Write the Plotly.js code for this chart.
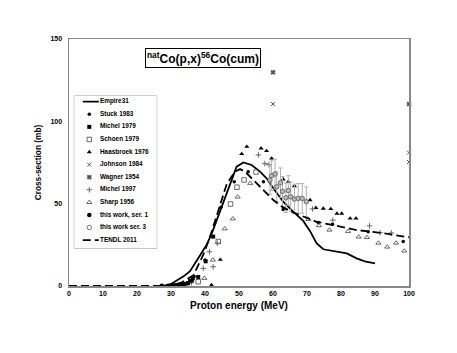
<!DOCTYPE html>
<html><head><meta charset="utf-8">
<script src="https://cdn.plot.ly/plotly-3.0.1.min.js"></script>
<style>html,body{margin:0;padding:0;background:#fff;}#chart{width:457px;height:353px;}</style>
</head><body><div id="chart"></div>
<script>
// ---- data ----
const empireE  = [27, 28.7, 30, 33.6, 35.6, 38.5, 40.5, 42.2, 44.9, 47.4, 49.3, 51.3, 53.7, 56.2, 58.1, 60.1, 63, 66, 68.9, 71, 72.8, 74.8, 77.7, 81.7, 84.6, 87, 90];
const empireXS = [0, 0.4, 1.2, 5.7, 9, 18, 25, 33, 48, 62, 72.5, 75, 73.5, 69.5, 65.4, 59.3, 51.2, 45, 39.5, 33, 26, 22.3, 21.3, 19.8, 16.8, 15, 13.8];

const tendlE  = [0, 10, 20, 26, 28, 30, 33, 36.6, 39.5, 41.5, 43.4, 46.4, 48.8, 50.3, 51.8, 54.7, 57.6, 60.1, 62.6, 65, 67.9, 72.8, 77.7, 84.6, 92.5, 100];
const tendlXS = [0, 0, 0, 0, 0.1, 0.5, 2, 6.5, 19, 30, 43, 62, 69.4, 71, 69.4, 63.3, 57.3, 52.2, 48.2, 45.5, 43, 39, 37, 34, 32, 29.6];

const stuckE  = [36.8, 40, 44.7, 48.6, 52.7, 57.2, 63, 73.3, 77.5, 88, 98.3];
const stuckXS = [5.7, 15.8, 47.8, 63.3, 69.4, 63.3, 46.5, 38.5, 37.5, 33, 27];

const michel79E  = [30, 31, 32, 33, 34, 35, 35.6, 36.4, 38, 40.2, 42.4];
const michel79XS = [0.2, 0.3, 0.5, 0.8, 1.2, 1.8, 3, 4.7, 5.5, 15, 30];

const schoenE  = [38, 43.9, 47.5, 49.4, 51.5, 55];
const schoenXS = [2.6, 27, 49.8, 60, 64.4, 69.2];

const haasE  = [41.9, 44.5, 50.8, 52.3, 56.5, 58.1, 59.6, 63, 64.5, 66.3, 70.9, 72.6, 74.8, 77, 78.8, 80.2, 82.7, 84.4];
const haasXS = [0.6, 16, 80.2, 84.6, 83.6, 82, 77.5, 64.8, 63.3, 60.7, 52.2, 47.5, 47, 46.8, 44, 44, 41, 41];

const johnsonE  = [60, 100, 100];
const johnsonXS = [110.5, 81, 75.3];

const wagnerE  = [60, 100];
const wagnerXS = [129.8, 110.5];

const michel97E  = [36, 39.5, 41.3, 42.4, 43.6, 55.7, 57.6, 58.8, 71.6, 77.6, 88.4, 91.5, 94.8];
const michel97XS = [2, 10.7, 20.8, 11.7, 26, 79.6, 74.3, 73.7, 46.8, 40, 36.5, 32.4, 32.2];

const sharpE  = [39.8, 42.3, 45.8, 48.2, 49.6, 53.3, 70.4, 73.5, 76.6, 82.1, 85.2, 87.6, 91, 93.6, 96.2, 98.6];
const sharpXS = [4.7, 15.8, 34.8, 40.8, 54.1, 62.4, 40.5, 36.7, 34, 33.2, 29.8, 29.5, 26.1, 23.7, 26.1, 21.3];

const ser1E  = [27.3, 29.2, 31.2, 33, 35, 36.1];
const ser1XS = [0.1, 0.2, 0.5, 0.9, 1.6, 3.3];

const ser3E   = [59.1, 59.6, 60.6, 61.1, 62.2, 62.8, 63.8, 64.5, 65.2, 66.3, 67.4, 68.6, 69.8];
const ser3XS  = [64.4, 67, 68, 60.3, 62.7, 57.5, 53.6, 58, 54.2, 52.8, 53.2, 53.2, 51.2];
const ser3Err = [9, 9, 9, 9, 9, 9, 9, 9, 9, 9, 9, 9, 9];

const legendNames = ['Empire31', 'Stuck 1983', 'Michel 1979', 'Schoen 1979', 'Haasbroek 1976', 'Johnson 1984',
  'Wagner 1954', 'Michel 1997', 'Sharp 1956', 'this work, ser. 1', 'this work ser. 3', 'TENDL 2011'];

// ---- styles ----
const FONT = 'Liberation Sans, Arial, sans-serif';
const styles = [
  {mode: 'lines', line: {color: '#000', width: 1.8}},
  {mode: 'markers', marker: {symbol: 'circle', size: 3.5, color: '#000'}},
  {mode: 'markers', marker: {symbol: 'square', size: 4, color: '#000'}},
  {mode: 'markers', marker: {symbol: 'square-open', size: 4.5, color: '#444', line: {width: 0.8}}},
  {mode: 'markers', marker: {symbol: 'triangle-up', size: 4.5, color: '#000'}},
  {mode: 'markers', marker: {symbol: 'x-thin-open', size: 4, color: '#555', line: {width: 1, color: '#555'}}},
  {mode: 'markers', marker: {symbol: 'x', size: 4, color: '#555', line: {width: 0.5, color: '#333'}}},
  {mode: 'markers', marker: {symbol: 'cross-thin-open', size: 4, color: '#666', line: {width: 1, color: '#666'}}},
  {mode: 'markers', marker: {symbol: 'triangle-up-open', size: 4.5, color: '#444', line: {width: 0.8}}},
  {mode: 'markers', marker: {symbol: 'circle', size: 4.5, color: '#000'}},
  {mode: 'markers', marker: {symbol: 'circle', size: 4.5, color: '#bbb', line: {width: 0.8, color: '#555'}}},
  {mode: 'lines', line: {color: '#000', width: 1.8, dash: '8px,4px'}}
];
const series = [
  [empireE, empireXS], [stuckE, stuckXS], [michel79E, michel79XS], [schoenE, schoenXS], [haasE, haasXS],
  [johnsonE, johnsonXS], [wagnerE, wagnerXS], [michel97E, michel97XS], [sharpE, sharpXS], [ser1E, ser1XS],
  [ser3E, ser3XS], [tendlE, tendlXS]
];

const traces = [];
series.forEach(function (s, i) {
  const t = Object.assign({type: 'scatter', x: s[0], y: s[1], name: legendNames[i], showlegend: false,
    cliponaxis: false, hoverinfo: 'skip'}, JSON.parse(JSON.stringify(styles[i])));
  if (i === 10) {
    t.error_y = {type: 'data', array: ser3Err, visible: true, color: '#b0b0b0', thickness: 1, width: 2};
  }
  traces.push(t);
});

// ---- custom compact legend on its own hidden axes (units: px inside the legend box) ----
const LW = 82.4, LH = 152.3;
const rowY = function (i) { return 5.7 + i * 12.58; };
legendNames.forEach(function (n, i) {
  const st = JSON.parse(JSON.stringify(styles[i]));
  const isLine = st.mode === 'lines';
  const t = Object.assign({type: 'scatter', xaxis: 'x2', yaxis: 'y2', showlegend: false, hoverinfo: 'skip', cliponaxis: false,
    x: isLine ? [8.5, 24.5] : [15], y: isLine ? [rowY(i), rowY(i)] : [rowY(i)]}, st);
  if (i === 10) { t.marker = {symbol: 'circle-open', size: 4.5, color: '#555', line: {width: 0.8}}; }
  traces.push(t);
});
traces.push({type: 'scatter', xaxis: 'x2', yaxis: 'y2', mode: 'text', showlegend: false, hoverinfo: 'skip', cliponaxis: false,
  x: legendNames.map(function () { return 25.7; }), y: legendNames.map(function (n, i) { return rowY(i); }),
  text: legendNames, textposition: 'middle right',
  textfont: {family: FONT, size: 6.4, weight: 700, color: '#000'}});

const L = 69, R = 409, T = 39, B = 286;
const W = 457, H = 353;
const px = function (x) { return (x - L) / (R - L); };
const py = function (y) { return (B - y) / (B - T); };

const layout = {
  width: W, height: H,
  margin: {l: L, r: W - R, t: T, b: H - B, pad: 0},
  paper_bgcolor: '#fff', plot_bgcolor: '#fff',
  font: {family: FONT, color: '#000'},
  showlegend: false,
  xaxis: {
    range: [0, 100], dtick: 10, tick0: 0, showgrid: false, zeroline: false,
    showline: true, mirror: true, linecolor: '#888', linewidth: 1.5,
    ticks: '', tickfont: {family: FONT, size: 7, weight: 700, color: '#000'},
    title: {text: 'Proton energy (MeV)', font: {family: FONT, size: 10, weight: 700, color: '#000'}, standoff: 6},
    automargin: false, fixedrange: true
  },
  yaxis: {
    range: [0, 150], dtick: 50, tick0: 0, showgrid: false, zeroline: false,
    showline: true, mirror: true, linecolor: '#888', linewidth: 1.5,
    ticks: '', ticklabelstandoff: 4, tickfont: {family: FONT, size: 7, weight: 700, color: '#000'},
    title: {text: 'Cross-section (mb)', font: {family: FONT, size: 8.3, weight: 700, color: '#000'}, standoff: 7},
    automargin: false, fixedrange: true
  },
  xaxis2: {domain: [px(74.3), px(74.3 + LW)], range: [0, LW], visible: false, anchor: 'y2', fixedrange: true},
  yaxis2: {domain: [py(96 + LH), py(96)], range: [LH, 0], visible: false, anchor: 'x2', fixedrange: true},
  shapes: [
    {type: 'rect', xref: 'paper', yref: 'paper', x0: px(74.3), x1: px(74.3 + LW), y0: py(96 + LH), y1: py(96),
     line: {color: '#999', width: 1}, fillcolor: 'rgba(0,0,0,0)', layer: 'below'}
  ],
  annotations: [
    {xref: 'paper', yref: 'paper', x: px(202.8), y: py(58.3), xanchor: 'center', yanchor: 'middle', showarrow: false,
     text: '<sup>nat</sup>Co(p,x)<sup>56</sup>Co(cum)', font: {family: FONT, size: 12, weight: 700, color: '#000'},
     bordercolor: '#000', borderwidth: 1, borderpad: 1, bgcolor: '#fff'}
  ]
};

Plotly.newPlot('chart', traces, layout, {staticPlot: true, displayModeBar: false});
</script>
</body></html>
